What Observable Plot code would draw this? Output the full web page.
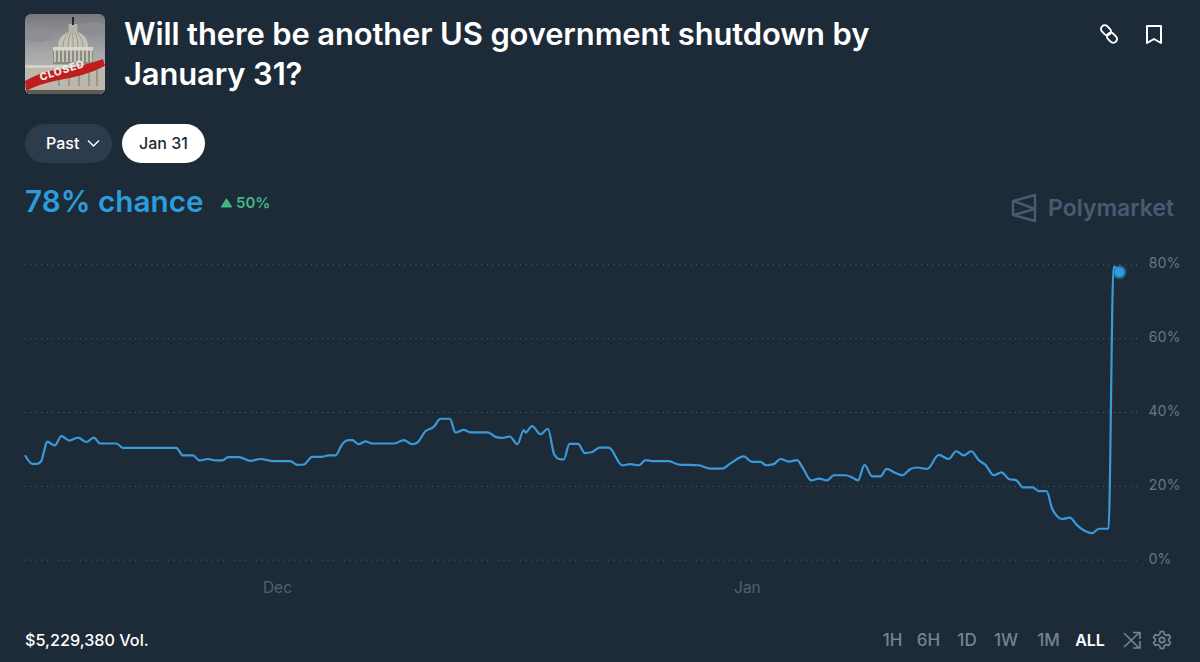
<!DOCTYPE html>
<html>
<head>
<meta charset="utf-8">
<script src="https://cdn.jsdelivr.net/npm/d3@7"></script>
<script src="https://cdn.jsdelivr.net/npm/@observablehq/plot@0.6"></script>
<style>
  html, body { margin: 0; padding: 0; background: #1d2b39; }
  body { width: 1200px; height: 662px; position: relative; overflow: hidden; font-family: Inter, "Liberation Sans", sans-serif; color: #fff; }
  .abs { position: absolute; white-space: nowrap; }
  #title { left: 124px; top: 14px; font-size: 30.9px; line-height: 40px; font-weight: 600; letter-spacing: -0.1px; }
  .pill { top: 124px; height: 39px; line-height: 39px; border-radius: 20px; font-size: 16px; font-weight: 500; text-align: center; }
  #past { left: 25px; width: 87px; background: #2d3c4d; }
  #past span { position: absolute; left: 21px; }
  #jan31 { left: 122px; width: 83px; background: #fff; color: #1d2b39; }
  #chance { left: 25px; top: 182px; font-size: 29.7px; line-height: 38px; font-weight: 600; color: #2d9cdb; }
  #delta { left: 236px; top: 193px; font-size: 15px; line-height: 20px; font-weight: 600; color: #3eb980; }
  #brand { left: 1048px; top: 193px; font-size: 23px; line-height: 30px; font-weight: 600; color: #475b71; }
  #chart { left: 0; top: 240px; }
  #vol { left: 25px; top: 630px; font-size: 16.2px; line-height: 20px; font-weight: 500; }
  .range { top: 630px; font-size: 17px; line-height: 20px; font-weight: 500; color: #748494; transform: translateX(-50%); }
  .range.on { color: #fff; font-size: 16px; font-weight: 600; }
</style>
</head>
<body>
<svg class="abs" style="left:25px;top:14px" width="80" height="80" viewBox="0 0 80 80">
  <defs>
    <clipPath id="thumb"><rect width="80" height="80" rx="6"/></clipPath>
    <linearGradient id="sky" x1="0" y1="0" x2="0" y2="1"><stop offset="0" stop-color="#77797d"/><stop offset="0.5" stop-color="#a6a8aa"/><stop offset="1" stop-color="#c4c5c4"/></linearGradient>
  </defs>
  <g clip-path="url(#thumb)">
    <rect width="80" height="80" fill="url(#sky)"/>
    <ellipse cx="12" cy="22" rx="14" ry="6" fill="#8d8f92"/>
    <ellipse cx="68" cy="14" rx="16" ry="6" fill="#8a8c90"/>
    <rect y="51" width="80" height="29" fill="#bcb8ab"/>
    <rect x="0" y="51" width="80" height="3" fill="#d3d0c6"/>
    <path d="M28 50 V36 H68 V50 Z" fill="#8d8b80"/>
    <g stroke="#d5d2c8" stroke-width="1.600">
      <path d="M30 36 V48 M34 36 V48 M38 36 V48 M42 36 V48 M46 36 V48 M50 36 V48 M54 36 V48 M58 36 V48 M62 36 V48 M66 36 V48"/>
    </g>
    <rect x="28" y="33" width="40" height="3.500" fill="#d8d5cb"/>
    <path d="M33 33 Q33 19 48 17.500 Q63 19 63 33 Z" fill="#c5c2b7"/>
    <g stroke="#8f8d84" stroke-width="0.800" fill="none">
      <path d="M38 33 Q38 24 44 19 M43 33 Q43 24 46 18 M48 33 V18 M53 33 Q53 24 50 18 M58 33 Q58 24 52 19"/>
    </g>
    <rect x="43.500" y="10" width="9" height="8" fill="#b7b4a9"/>
    <rect x="47" y="3" width="2" height="8" fill="#25272b"/>
    <g stroke="#8b887d" stroke-width="1.400">
      <path d="M34 72 V62 M44 72 V60 M54 72 V58 M64 72 V56 M72 72 V54"/>
    </g>
    <path d="M0 67 Q16 58 30 56 Q56 53 78 45 L80 52 Q60 62 34 66 Q14 70 1 77 Z" fill="#c01d1e"/>
    <text transform="translate(16 67) rotate(-18)" font-family="Inter" font-weight="800" font-size="10.500" fill="#efe9e4" letter-spacing="0.700">CLOSED</text>
    <rect y="76" width="80" height="4" fill="#5d5a52"/>
  </g>
</svg>

<div id="title" class="abs">Will there be another US government shutdown by<br>January 31?</div>

<svg class="abs" style="left:1098px;top:23px" width="22" height="22" viewBox="0 0 22 22" fill="none" stroke="#fff" stroke-width="2">
  <rect x="2.500" y="3.500" width="11" height="7.500" rx="3.750" transform="rotate(45 8 7.250)"/>
  <rect x="8.500" y="11" width="11" height="7.500" rx="3.750" transform="rotate(45 14 14.750)"/>
</svg>
<svg class="abs" style="left:1145px;top:24px" width="18" height="21" viewBox="0 0 18 21" fill="none" stroke="#fff" stroke-width="2" stroke-linejoin="round">
  <path d="M2 2 H16 V19 L9 15 L2 19 Z"/>
</svg>

<div id="past" class="abs pill"><span>Past</span></div>
<svg class="abs" style="left:87px;top:139px" width="13" height="9" viewBox="0 0 13 9" fill="none" stroke="#fff" stroke-width="1.500"><path d="M1 1.500 L6.500 7 L12 1.500"/></svg>
<div id="jan31" class="abs pill">Jan 31</div>

<div id="chance" class="abs">78% chance</div>
<svg class="abs" style="left:220px;top:197px" width="13" height="11" viewBox="0 0 13 11"><path d="M6.500 1 L12 9.500 Q12.300 10.500 11 10.500 H2 Q0.700 10.500 1 9.500 Z" fill="#3eb980"/></svg>
<div id="delta" class="abs">50%</div>

<svg class="abs" style="left:1011px;top:193px" width="26" height="30" viewBox="0 0 26 30" fill="none" stroke="#475b71" stroke-width="2.400" stroke-linejoin="round">
  <path d="M24 2 V28 L2 22 V8 Z"/><path d="M2 8 L24 16 L2 22"/>
</svg>
<div id="brand" class="abs">Polymarket</div>

<div id="chart" class="abs"></div>

<div id="vol" class="abs">$5,229,380 Vol.</div>
<div id="ranges"></div>
<svg class="abs" style="left:1122px;top:630px" width="20" height="20" viewBox="0 0 20 20" fill="none" stroke="#748494" stroke-width="1.600">
  <path d="M2 3 L17 18 M11 18 H18 V11"/><path d="M2 17 L17 3 M11 2.500 H18 V9"/>
</svg>
<svg class="abs" style="left:1152px;top:630px" width="20" height="20" viewBox="0 0 24 24" fill="none" stroke="#748494" stroke-width="2">
  <circle cx="12" cy="12" r="3.200"/>
  <path d="M10 2 H14 L14.700 5 L17.300 6.500 L20.200 5.600 L22.200 9 L20 11 V13 L22.200 15 L20.200 18.400 L17.300 17.500 L14.700 19 L14 22 H10 L9.300 19 L6.700 17.500 L3.800 18.400 L1.800 15 L4 13 V11 L1.800 9 L3.800 5.600 L6.700 6.500 L9.300 5 Z" stroke-linejoin="round"/>
</svg>

<script>
// days after Dec 1
const days = [
  -16.62, -16.18, -15.85, -15.59, -15.41, -15.19, -14.69, -14.25, -13.72, -13.15, -12.6, -12.12, -11.68, -10.62, -10.18,
  -6.68, -6.24, -5.58, -5.14, -4.59, -4.09, -3.65, -3.25, -2.55, -1.78, -1.12, -0.24, 0.86, 1.3, 1.74, 2.29, 2.95, 3.39, 3.83,
  4.27, 4.71, 4.93, 5.37, 5.8, 6.24, 7.67, 8.11, 8.33, 8.88, 9.21, 9.76, 10.31, 10.75, 11.37, 11.74, 12.29, 12.73, 13.87,
  14.38, 14.82, 15.33, 15.82, 16.25, 16.36, 16.8, 17.35, 17.84, 18.27, 18.67, 18.89, 19.26, 19.83, 20.28, 20.76, 21.24, 21.86,
  22.74, 23.28, 23.84, 24.28, 24.82, 25.82, 26.47, 27.79, 28.56, 29.33, 29.88, 30.76, 31.31, 31.86, 32.24, 32.74, 33.18,
  33.73, 34.28, 34.61, 35.2, 35.71, 36.26, 36.7, 37.47, 37.91, 38.3, 38.72, 39.23, 39.78, 40.18, 40.77, 41.21, 41.76, 42.2,
  42.86, 43.62, 44.28, 44.77, 45.27, 45.76, 46.26, 46.7, 47.25, 47.76, 48.24, 48.75, 49.17, 49.82, 50.22, 50.73, 51.1, 51.43,
  51.76, 52.27, 52.75, 53.74, 54.18, 54.82, 55.15, 55.54
];
const chance = [
  28.2, 26.1, 26.1, 26.8, 29.3, 32.1, 31.1, 33.6, 32.4, 33.2, 32, 33.2, 31.6, 31.6, 30.4,
  30.4, 28.4, 28.4, 27, 27.4, 27, 27, 27.9, 27.9, 26.9, 27.4, 26.8, 26.8, 25.8, 25.9, 28, 28, 28.4, 28.4,
  31.4, 32.5, 32.5, 31.4, 32.2, 31.6, 31.6, 32.2, 32.5, 31.4, 31.8, 34.9, 36.1, 38.3, 38.3, 34.6, 35.3, 34.6, 34.6,
  33.4, 33.1, 33.5, 31.4, 35.2, 34.6, 36.3, 34.1, 35.6, 28.5, 27.3, 27.3, 31.5, 31.5, 29, 29.3, 30.5, 30.5,
  25.7, 26, 25.7, 27.1, 26.8, 26.8, 25.9, 25.7, 24.8, 24.8, 26.2, 28.1, 26.6, 26.6, 25.7, 26, 27.4,
  26.7, 27.1, 25.3, 21.6, 22.1, 21.6, 23, 23, 22.4, 21.6, 25.8, 22.7, 22.7, 24.7, 23.6, 23, 24.7, 25.1,
  24.7, 28.5, 27.4, 29.5, 28.4, 29.5, 27.1, 25.8, 23, 23.8, 22, 21.6, 19.7, 19.7, 18.7, 18.7, 13.9, 11.9,
  11.1, 11.5, 9.4, 7.3, 8.5, 8.5, 79.5, 78
];
const yTicks = [0, 20, 40, 60, 80];
const monthTicks = ["2025-12-01", "2026-01-01"];
const rangeLabels = ["1H", "6H", "1D", "1W", "1M", "ALL"];
const rangeCenters = [892.5, 928.5, 967, 1006, 1048.5, 1090];

const toDate = (d) => new Date(Date.UTC(2025, 11, 1) + d * 864e5);
const points = days.map((d, i) => ({date: toDate(d), value: chance[i]}));
const last = points[points.length - 1];

const chart = Plot.plot({
  width: 1200,
  height: 400,
  marginLeft: 25,
  marginRight: 63,
  marginTop: 24.4,
  marginBottom: 80.4,
  style: {background: "transparent", fontFamily: "Inter, sans-serif", fontSize: "14px", overflow: "visible"},
  x: {type: "utc", domain: [toDate(-16.62), toDate(56.73)]},
  y: {domain: [0, 80]},
  marks: [
    Plot.ruleY(yTicks, {stroke: "#566675", strokeWidth: 1, strokeDasharray: "1 4.500"}),
    Plot.axisY({
      anchor: "right", ticks: yTicks, tickSize: 0, tickPadding: 11,
      tickFormat: (d) => d + "%", label: null, fill: "#66778a", dy: -1
    }),
    Plot.axisX(monthTicks.map((d) => new Date(d)), {
      anchor: "bottom", tickSize: 0, tickPadding: 22,
      tickFormat: d3.utcFormat("%b"), label: null, fill: "#4f6073", fontSize: 15.5
    }),
    Plot.line(points, {x: "date", y: "value", curve: "monotone-x", stroke: "#3a9ad9", strokeWidth: 2.2}),
    Plot.dot([last], {x: "date", y: "value", r: 7, fill: "#2d9cdb", fillOpacity: 0.45}),
    Plot.dot([last], {x: "date", y: "value", r: 5, fill: "#2d9cdb"})
  ]
});
document.getElementById("chart").append(chart);

const holder = document.getElementById("ranges");
rangeLabels.forEach((t, i) => {
  const el = document.createElement("div");
  el.className = "abs range" + (t === "ALL" ? " on" : "");
  el.style.left = rangeCenters[i] + "px";
  el.textContent = t;
  holder.append(el);
});
</script>
</body>
</html>
